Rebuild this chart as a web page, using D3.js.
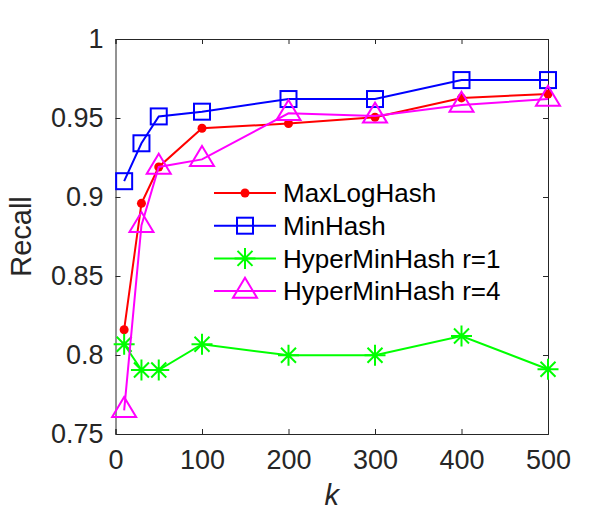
<!DOCTYPE html>
<html>
<head>
<meta charset="utf-8">
<script src="https://cdn.jsdelivr.net/npm/d3@7"></script>
<style>
  body { margin: 0; background: #fff; }
  text { font-family: "Liberation Sans", Helvetica, Arial, sans-serif; }
</style>
</head>
<body>
<div id="chart"></div>
<script>
    // data
    const kValues = [10, 30, 50, 100, 200, 300, 400, 500];
    const maxLogHash = [0.816, 0.896, 0.919, 0.9435, 0.9465, 0.9505, 0.9627, 0.9652];
    const minHash = [0.910, 0.934, 0.951, 0.954, 0.962, 0.962, 0.974, 0.974];
    const hyperR1 = [0.8068, 0.7905, 0.7905, 0.8068, 0.7998, 0.7998, 0.812, 0.791];
    const hyperR4 = [0.765, 0.882, 0.919, 0.9238, 0.953, 0.9513, 0.9582, 0.962];
    const xTicks = [0, 100, 200, 300, 400, 500];
    const yTicks = [0.75, 0.8, 0.85, 0.9, 0.95, 1];

    const series = [
        { name: "MaxLogHash", values: maxLogHash, color: "#ff0000", marker: "dot" },
        { name: "MinHash", values: minHash, color: "#0000ff", marker: "square" },
        { name: "HyperMinHash r=1", values: hyperR1, color: "#00ff00", marker: "star" },
        { name: "HyperMinHash r=4", values: hyperR4, color: "#ff00ff", marker: "triangle" }
    ];

    const width = 607, height = 525;
    const margin = { top: 39, right: 59, bottom: 91, left: 115.5 };
    const innerW = width - margin.left - margin.right;
    const innerH = height - margin.top - margin.bottom;

    const svg = d3.select("#chart").append("svg")
        .attr("width", width)
        .attr("height", height);

    const g = svg.append("g")
        .attr("transform", `translate(${margin.left},${margin.top})`);

    const x = d3.scaleLinear().domain([0, 500]).range([0, innerW]);
    const y = d3.scaleLinear().domain([0.75, 1]).range([innerH, 0]);

    const axisColor = "#262626";

    // axes with inward ticks, box on
    const xAxis = g.append("g")
        .attr("transform", `translate(0,${innerH})`)
        .call(d3.axisBottom(x).tickValues(xTicks).tickSize(-5).tickPadding(16).tickFormat(d3.format("d")));
    const yAxis = g.append("g")
        .call(d3.axisLeft(y).tickValues(yTicks).tickSize(-5).tickPadding(12).tickFormat(d => d === 1 ? "1" : d3.format(".2~f")(d)));
    const xTop = g.append("g")
        .call(d3.axisTop(x).tickValues(xTicks).tickSize(-5).tickFormat(""));
    const yRight = g.append("g")
        .attr("transform", `translate(${innerW},0)`)
        .call(d3.axisRight(y).tickValues(yTicks).tickSize(-5).tickFormat(""));

    [xAxis, yAxis, xTop, yRight].forEach(a => {
        a.select(".domain").attr("stroke", axisColor).attr("stroke-width", 1);
        a.selectAll(".tick line").attr("stroke", axisColor);
        a.selectAll(".tick text").attr("fill", axisColor).style("font-size", "27px");
    });
    xAxis.selectAll(".tick text").attr("dy", "0.71em");

    // marker drawing
    function drawMarker(sel, type, color) {
        if (type === "dot") {
            sel.append("circle").attr("r", 4.5).attr("fill", color);
        } else if (type === "square") {
            sel.append("rect").attr("x", -8).attr("y", -8).attr("width", 16).attr("height", 16)
                .attr("fill", "none").attr("stroke", color).attr("stroke-width", 2);
        } else if (type === "triangle") {
            const h = 20, w = 12;
            sel.append("path").attr("d", `M0,${-2 * h / 3}L${w},${h / 3}L${-w},${h / 3}Z`)
                .attr("fill", "none").attr("stroke", color).attr("stroke-width", 2);
        } else if (type === "star") {
            const r = 10.5, d = 7.5;
            sel.append("path").attr("d", `M${-r},0H${r}M0,${-r}V${r}M${-d},${-d}L${d},${d}M${-d},${d}L${d},${-d}`)
                .attr("fill", "none").attr("stroke", color).attr("stroke-width", 2);
        }
    }

    const line = d3.line().x(d => x(d[0])).y(d => y(d[1]));

    series.forEach(s => {
        const pts = kValues.map((k, i) => [k, s.values[i]]);
        g.append("path")
            .datum(pts)
            .attr("d", line)
            .attr("fill", "none")
            .attr("stroke", s.color)
            .attr("stroke-width", 2);
        g.selectAll(null)
            .data(pts)
            .enter()
            .append("g")
            .attr("transform", d => `translate(${x(d[0])},${y(d[1])})`)
            .each(function () { drawMarker(d3.select(this), s.marker, s.color); });
    });

    // legend (no box)
    const legend = svg.append("g").attr("transform", "translate(214,193)");
    series.forEach((s, i) => {
        const row = legend.append("g").attr("transform", `translate(0,${i * 32.7})`);
        row.append("line").attr("x1", 0).attr("x2", 62).attr("y1", 0).attr("y2", 0)
            .attr("stroke", s.color).attr("stroke-width", 2);
        drawMarker(row.append("g").attr("transform", "translate(31,0)"), s.marker, s.color);
        row.append("text")
            .attr("x", 69)
            .attr("dy", "0.35em")
            .style("font-size", "26px")
            .attr("fill", "#000")
            .text(s.name);
    });

    // axis labels
    svg.append("text")
        .attr("transform", `translate(31,${margin.top + innerH / 2}) rotate(-90)`)
        .attr("text-anchor", "middle")
        .style("font-size", "29px")
        .attr("fill", axisColor)
        .text("Recall");

    svg.append("text")
        .attr("x", margin.left + innerW / 2)
        .attr("y", 505)
        .attr("text-anchor", "middle")
        .style("font-size", "29px")
        .style("font-style", "italic")
        .attr("fill", axisColor)
        .text("k");
</script>
</body>
</html>
